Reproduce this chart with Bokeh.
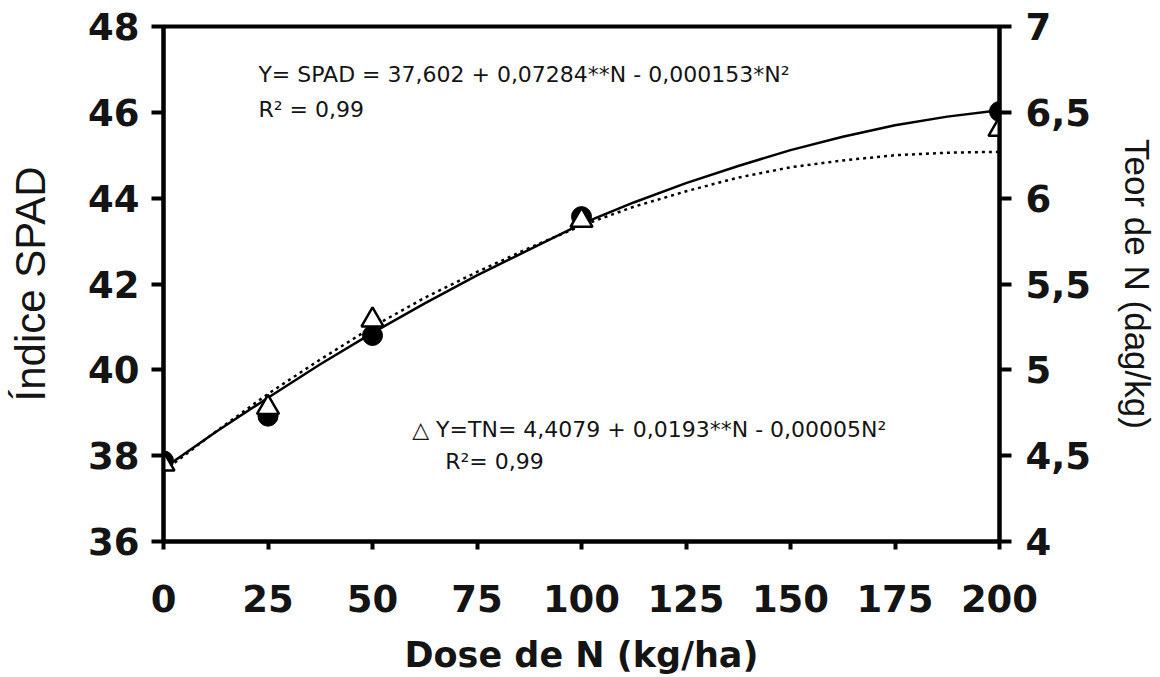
from bokeh.plotting import figure
from bokeh.models import Range1d, LinearAxis, FixedTicker, Label
from bokeh.embed import file_html
from bokeh.resources import INLINE

# ---- data ----
dose = [0, 25, 50, 100, 200]
spad = [37.88, 38.92, 40.80, 43.57, 46.02]
tn = [4.45, 4.78, 5.29, 5.87, 6.40]

curve_dose = [0, 12.5, 25, 37.5, 50, 62.5, 75, 87.5, 100, 112.5, 125, 137.5,
              150, 162.5, 175, 187.5, 200]
spad_fit = [37.70, 38.55, 39.35, 40.13, 40.86, 41.55, 42.20, 42.80, 43.40,
            43.90, 44.35, 44.75, 45.12, 45.43, 45.70, 45.90, 46.05]
tn_fit = [4.41, 4.64, 4.86, 5.06, 5.25, 5.42, 5.57, 5.71, 5.84, 5.95, 6.04,
          6.12, 6.18, 6.22, 6.25, 6.265, 6.27]

x_ticks = [0, 25, 50, 75, 100, 125, 150, 175, 200]
left_ticks = [36, 38, 40, 42, 44, 46, 48]
right_ticks = [4, 4.5, 5, 5.5, 6, 6.5, 7]
right_labels = ["4", "4,5", "5", "5,5", "6", "6,5", "7"]

x_title = "Dose de N (kg/ha)"
left_title = "Índice SPAD"
right_title = "Teor de N (dag/kg)"

eq1 = "Y= SPAD = 37,602 + 0,07284**N - 0,000153*N²"
r1 = "R² = 0,99"
eq2 = "△  Y=TN= 4,4079 + 0,0193**N - 0,00005N²"
r2 = "R²= 0,99"

TICK_FONT = "DejaVu Sans"

p = figure(width=1160, height=677, output_backend="svg", toolbar_location=None,
           x_range=Range1d(0, 200), y_range=Range1d(36, 48),
           min_border_left=163, min_border_right=160, min_border_top=26,
           min_border_bottom=132)
p.extra_y_ranges = {"tn": Range1d(4, 7)}
p.grid.visible = False
p.outline_line_color = "black"
p.outline_line_width = 4
p.background_fill_color = "white"
p.border_fill_color = "white"

# curves
p.line(curve_dose, spad_fit, line_color="black", line_width=2.5)
p.line(curve_dose, tn_fit, y_range_name="tn", line_color="black",
       line_width=2.5, line_dash="3 4")

# points
p.scatter(dose, spad, marker="circle", size=20, fill_color="black",
          line_color="black")
p.scatter(dose, tn, y_range_name="tn", marker="triangle", size=22,
          fill_color="white", line_color="black", line_width=2.5)

# axes styling
def style(ax, tick_out, standoff):
    ax.axis_line_width = 4
    ax.axis_line_color = "black"
    ax.major_tick_line_width = 4
    ax.major_tick_line_color = "black"
    ax.major_tick_out = tick_out
    ax.major_tick_in = 0
    ax.minor_tick_line_color = None
    ax.major_label_text_font = TICK_FONT
    ax.major_label_text_font_style = "bold"
    ax.major_label_text_font_size = "37px"
    ax.major_label_text_color = "#141414"
    ax.major_label_standoff = standoff
    ax.axis_label_text_color = "#141414"

xa = p.xaxis[0]
style(xa, 8, 35)
xa.ticker = FixedTicker(ticks=x_ticks)
xa.axis_label = x_title
xa.axis_label_text_font = TICK_FONT
xa.axis_label_text_font_style = "bold"
xa.axis_label_text_font_size = "35px"
xa.axis_label_standoff = 20

ya = p.yaxis[0]
style(ya, 12, 12)
ya.ticker = FixedTicker(ticks=left_ticks)
ya.axis_label = left_title
ya.axis_label_text_font = "Liberation Sans"
ya.axis_label_text_font_style = "normal"
ya.axis_label_text_font_size = "42px"
ya.axis_label_standoff = 31

ra = LinearAxis(y_range_name="tn")
style(ra, 12, 14)
ra.ticker = FixedTicker(ticks=right_ticks)
ra.major_label_overrides = {t: l for t, l in zip(right_ticks, right_labels)}
ra.axis_label = right_title
ra.axis_label_text_font = "Liberation Sans"
ra.axis_label_text_font_style = "normal"
ra.axis_label_text_font_size = "35px"
ra.axis_label_standoff = 24
p.add_layout(ra, "right")

# annotations
for x, y, txt in [(22.7, 46.87, eq1), (22.7, 46.06, r1),
                  (59.5, 38.62, eq2), (67.4, 37.86, r2)]:
    p.add_layout(Label(x=x, y=y, text=txt, text_font="DejaVu Sans",
                       text_font_size="22px", text_baseline="middle",
                       text_color="#141414"))

open("out.html", "w").write(file_html(p, INLINE))
